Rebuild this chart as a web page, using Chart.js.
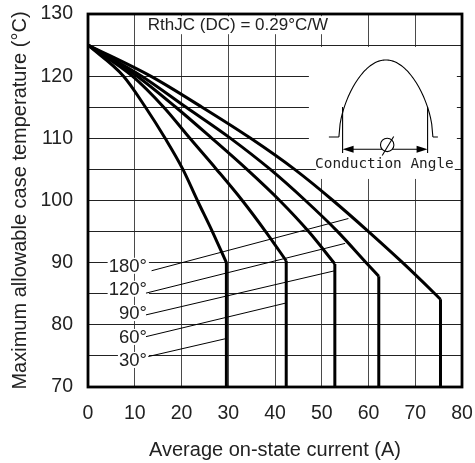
<!DOCTYPE html>
<html>
<head>
<meta charset="utf-8">
<script src="https://cdn.jsdelivr.net/npm/chart.js@4.4.1/dist/chart.umd.min.js"></script>
<style>
  html, body { margin: 0; padding: 0; background: #fff; }
  #wrap { width: 475px; height: 463px; }
</style>
</head>
<body>
<div id="wrap"><canvas id="chart" width="475" height="463"></canvas></div>
<script>
// conduction angles, in the order the curves are listed below
const angleLabels = ['30°', '60°', '90°', '120°', '180°'];

// [average on-state current (A), max case temperature (°C)]
const curve30 = [[0, 125], [7.6, 120], [12.3, 115], [16.5, 110], [20.3, 105], [23.4, 100], [26.6, 95], [29.6, 90]];
const curve60 = [[0, 125], [9.5, 120], [16.2, 115], [21.8, 110], [27.5, 105], [33, 100], [38, 95], [42.4, 90.3]];
const curve90 = [[0, 125], [10.5, 120], [18.8, 115], [26.5, 110], [34, 105], [41, 100], [47.2, 95], [52.8, 89.8]];
const curve120 = [[0, 125], [11.5, 120], [21, 115], [30.5, 110], [39, 105], [46.5, 100], [53.4, 95], [59.5, 90], [62.2, 87.8]];
const curve180 = [[0, 125], [13.4, 120], [24.4, 115], [34.8, 110], [44.2, 105], [52.4, 100], [60, 95], [67.3, 90], [74.2, 85], [75.4, 84.1]];
const curves = [curve30, curve60, curve90, curve120, curve180];

// leader lines from each angle label to its curve
const leader30 = [[12.9, 74.9], [29.6, 77.8]];
const leader60 = [[12.4, 78.1], [42.3, 83.5]];
const leader90 = [[12.4, 81.6], [52.8, 88.7]];
const leader120 = [[12.4, 85.1], [55, 93.1]];
const leader180 = [[13.6, 88.7], [55.7, 97.1]];
const leaders = [leader30, leader60, leader90, leader120, leader180];

// angle label anchors (right edge x, centre y)
const labelX = 12.6;
const labelTemps = [74.35, 78.05, 81.9, 85.8, 89.5];

const xTicks = [0, 10, 20, 30, 40, 50, 60, 70, 80];
const yTicks = [70, 80, 90, 100, 110, 120, 130];

const rthText = 'RthJC (DC) = 0.29°C/W';
const insetText = 'Conduction Angle';

const toPts = arr => arr.map(p => ({x: p[0], y: p[1]}));

Chart.defaults.font.family = "'Liberation Sans', Arial, sans-serif";
Chart.defaults.color = '#222';

let datasets = [];
curves.forEach((c, i) => {
  datasets.push({
    label: angleLabels[i],
    data: toPts(c),
    borderColor: '#000',
    borderWidth: 3,
    cubicInterpolationMode: 'monotone',
    pointRadius: 0
  });
  // vertical drop from the knee down to the axis floor
  const knee = c[c.length - 1];
  datasets.push({
    label: angleLabels[i] + ' limit',
    data: [{x: knee[0], y: knee[1]}, {x: knee[0], y: yTicks[0]}],
    borderColor: '#000',
    borderWidth: 3,
    borderCapStyle: 'butt',
    tension: 0,
    pointRadius: 0
  });
});
leaders.forEach((l, i) => {
  datasets.push({
    label: angleLabels[i] + ' leader',
    data: toPts(l),
    borderColor: '#000',
    borderWidth: 1,
    tension: 0,
    pointRadius: 0
  });
});

// white boxes, text and the conduction-angle sketch
const annotations = {
  id: 'annotations',
  beforeDatasetsDraw(chart) {
    const ctx = chart.ctx;
    const xs = chart.scales.x, ys = chart.scales.y;
    ctx.save();

    // RthJC note
    ctx.font = "17px 'Liberation Sans', Arial, sans-serif";
    const rx = xs.getPixelForValue(12.8);
    const ry = ys.getPixelForValue(128.2);
    const rw = ctx.measureText(rthText).width;
    ctx.fillStyle = '#fff';
    ctx.fillRect(rx - 2, ry - 9, rw + 4, 18);
    ctx.fillStyle = '#222';
    ctx.textBaseline = 'middle';
    ctx.textAlign = 'left';
    ctx.fillText(rthText, rx, ry);

    // inset box
    const bx = xs.getPixelForValue(47.25);
    const by = ys.getPixelForValue(124.7);
    const bw = xs.getPixelForValue(78.9) - bx;
    ctx.fillStyle = '#fff';
    ctx.fillRect(bx, by, bw, 111);
    ctx.fillRect(bx + 7, by + 111, bw - 9, 21);

    ctx.strokeStyle = '#000';
    ctx.lineWidth = 1.1;
    // half-sine pulse
    const px0 = bx + 30, pw = 94, base = by + 90, amp = 77;
    ctx.beginPath();
    for (let i = 0; i <= 80; i++) {
      const t = i / 80;
      const yy = base - amp * Math.pow(Math.sin(Math.PI * t), 0.55);
      if (i === 0) ctx.moveTo(px0 + t * pw, yy); else ctx.lineTo(px0 + t * pw, yy);
    }
    ctx.stroke();
    // baseline stubs
    ctx.beginPath();
    ctx.moveTo(bx + 20, base); ctx.lineTo(px0, base);
    ctx.moveTo(px0 + pw, base); ctx.lineTo(px0 + pw + 5, base);
    // extension lines
    const e1 = bx + 33.7, e2 = bx + 118.7;
    ctx.moveTo(e1, by + 60); ctx.lineTo(e1, by + 106);
    ctx.moveTo(e2, by + 60); ctx.lineTo(e2, by + 106);
    // dimension line
    const dy = by + 102.3;
    ctx.moveTo(e1 + 8, dy); ctx.lineTo(e2 - 8, dy);
    ctx.stroke();
    ctx.fillStyle = '#000';
    ctx.beginPath();
    ctx.moveTo(e1, dy); ctx.lineTo(e1 + 11, dy - 3.5); ctx.lineTo(e1 + 11, dy + 3.5); ctx.closePath();
    ctx.moveTo(e2, dy); ctx.lineTo(e2 - 11, dy - 3.5); ctx.lineTo(e2 - 11, dy + 3.5); ctx.closePath();
    ctx.fill();
    // angle symbol
    const cx = bx + 78.3, cy = by + 98;
    ctx.fillStyle = '#fff';
    ctx.beginPath(); ctx.arc(cx, cy, 6.7, 0, Math.PI * 2); ctx.fill();
    ctx.beginPath(); ctx.arc(cx, cy, 6.7, 0, Math.PI * 2); ctx.stroke();
    ctx.beginPath(); ctx.moveTo(cx + 6.5, cy - 8.5); ctx.lineTo(cx - 5, cy + 10.5); ctx.stroke();
    // caption
    ctx.fillStyle = '#222';
    ctx.font = "14.4px 'DejaVu Sans Mono', monospace";
    ctx.textAlign = 'center';
    ctx.textBaseline = 'alphabetic';
    ctx.fillText(insetText, bx + 75.5, by + 121.5);

    // angle labels
    ctx.font = "18.5px 'Liberation Sans', Arial, sans-serif";
    ctx.textAlign = 'right';
    ctx.textBaseline = 'middle';
    const lx = xs.getPixelForValue(labelX);
    angleLabels.forEach((lab, i) => {
      const ly = ys.getPixelForValue(labelTemps[i]);
      const w = ctx.measureText(lab).width;
      ctx.fillStyle = '#fff';
      ctx.fillRect(lx - w - 1, ly - 8, w + 3, 16);
      ctx.fillStyle = '#222';
      ctx.fillText(lab, lx, ly + 1);
    });
    ctx.restore();
  },
  afterDraw(chart) {
    const {ctx, chartArea: a} = chart;
    ctx.save();
    ctx.strokeStyle = '#000';
    ctx.lineWidth = 2.8;
    ctx.strokeRect(a.left, a.top, a.right - a.left, a.bottom - a.top);
    ctx.restore();
  }
};

new Chart(document.getElementById('chart'), {
  type: 'line',
  data: {datasets},
  options: {
    responsive: false,
    animation: false,
    devicePixelRatio: 1,
    layout: {padding: {top: 14, right: 13, left: 0, bottom: 0}},
    plugins: {legend: {display: false}, tooltip: {enabled: false}},
    scales: {
      x: {
        type: 'linear',
        min: 0, max: 80,
        afterBuildTicks: s => { s.ticks = xTicks.map(v => ({value: v})); },
        afterFit: s => { s.height = 76; s.paddingLeft = 0; s.paddingRight = 0; },
        ticks: {padding: 15, font: {size: 19.5}, color: '#222'},
        grid: {color: '#4a4a4a', lineWidth: 1, drawTicks: false},
        border: {display: false},
        title: {display: true, text: 'Average on-state current (A)', font: {size: 20}, color: '#222', padding: {top: 0, bottom: 1}}
      },
      y: {
        type: 'linear',
        min: 70, max: 130,
        ticks: {stepSize: 5, padding: 15, font: {size: 19.5}, color: '#222',
          callback: v => yTicks.includes(v) ? v : ''},
        afterFit: s => { s.width = 88; s.paddingTop = 0; s.paddingBottom = 0; },
        grid: {color: '#222', lineWidth: 1, drawTicks: false},
        border: {display: false},
        title: {display: true, text: 'Maximum allowable case temperature (°C)', font: {size: 20}, color: '#222', padding: {top: 8, bottom: 0}}
      }
    }
  },
  plugins: [annotations]
});
</script>
</body>
</html>
